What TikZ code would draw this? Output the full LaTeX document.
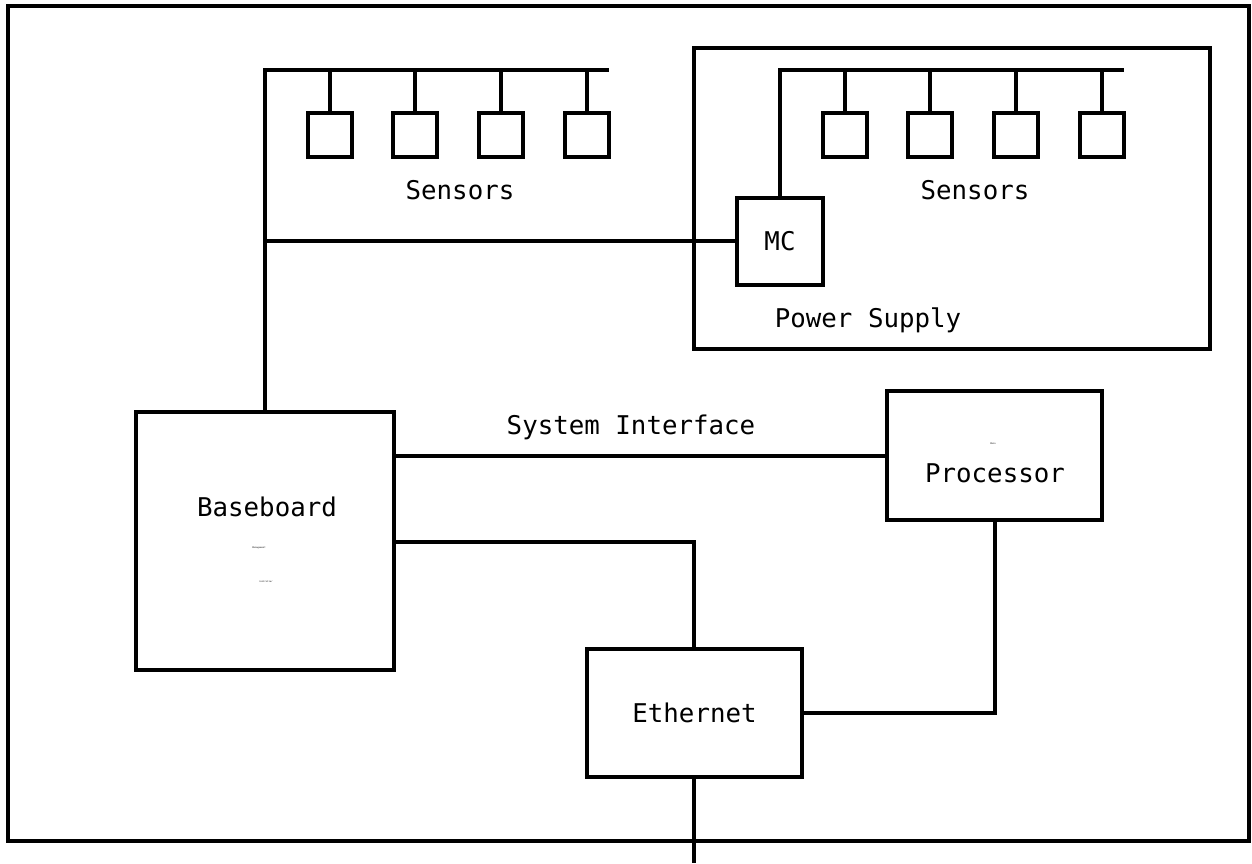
\documentclass[tikz,border=0pt]{standalone}
\usepackage{fontspec}
\setmonofont{DejaVu Sans Mono}
\begin{document}
\begin{tikzpicture}[x=1pt,y=-1pt,
  every path/.style={line width=4pt},
  box/.style={draw,line width=4pt,inner sep=0pt},
  sensor/.style={box,minimum width=44pt,minimum height=44pt},
  lbl/.style={font=\ttfamily\fontsize{25.8}{30}\selectfont,inner sep=0pt},
  tiny/.style={font=\ttfamily\fontsize{2.2}{3}\selectfont,inner sep=0pt},
  wire/.style={draw,line width=4pt,line join=miter}]
\useasboundingbox (0,0) rectangle (1252,863);
\draw[line width=4pt] (8,6) rectangle (1249,841);
% power supply
\node[box,minimum width=516pt,minimum height=301pt] (ps) at (952,198.5) {};
\node[lbl] (pslbl) at (868,320) {Power Supply};
% left sensors
\coordinate (busLend) at (609,70);
\coordinate (busL) at (265,70);
\foreach \i/\x in {1/330,2/415,3/501,4/587}{
  \node[sensor] (sl\i) at (\x,135) {};
  \draw[wire] (sl\i.north) -- (sl\i.north |- busL);
}
\node[lbl] (senslblL) at (460,190) {Sensors};
% right sensors
\node[box,minimum width=86pt,minimum height=87pt] (mc) at (780,241) {};
\node[lbl] at (mc.center) {MC};
\coordinate (busR) at (780,70);
\coordinate (busRend) at (1124,70);
\foreach \i/\x in {1/845,2/930,3/1016,4/1102}{
  \node[sensor] (sr\i) at (\x,135) {};
  \draw[wire] (sr\i.north) -- (sr\i.north |- busR);
}
\node[lbl] (senslblR) at (975,190) {Sensors};
% baseboard
\node[box,minimum width=258pt,minimum height=258pt] (bb) at (265,541) {};
\node[lbl] (bblbl) at (267,507) {Baseboard};
\node[tiny] (bbm) at (259,548) {Management};
\node[tiny] (bbc) at (266,582) {Controller};
% processor
\node[box,minimum width=215pt,minimum height=129pt] (proc) at (994.5,455.5) {};
\node[tiny] (procm) at (993,444) {Main};
\node[lbl] (proclbl) at (995,473) {Processor};
% ethernet
\node[box,minimum width=215pt,minimum height=128pt] (eth) at (694.5,713) {};
\node[lbl] at (eth.center) {Ethernet};
% wires
\draw[wire] (bb.north) -- (busL) -- (busLend);
\coordinate (jL) at (265,241);
\draw[wire] (jL) -- (mc.west);
\draw[wire] (mc.north) -- (busR) -- (busRend);
\draw[wire] (bb.east |- 0,456) -- (proc.west |- 0,456);
\node[lbl] (silbl) at (631,427) {System Interface};
\draw[wire] (bb.east |- 0,542) -- (694,542) -- (694,649);
\draw[wire] (proc.south) -- (proc.south |- eth.east) -- (eth.east);
\coordinate (ethout) at (694,863);
\draw[wire] (694,777) -- (ethout);
\end{tikzpicture}
\end{document}
